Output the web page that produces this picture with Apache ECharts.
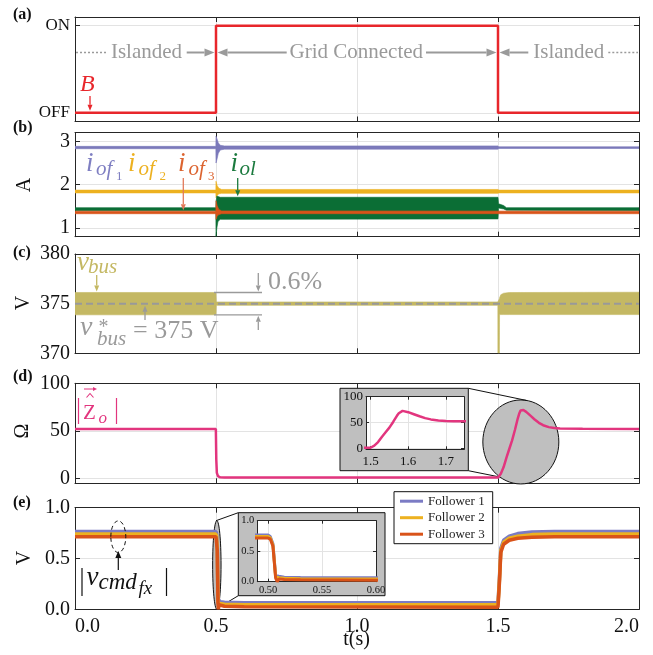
<!DOCTYPE html>
<html>
<head>
<meta charset="utf-8">
<title>Islanded / grid-connected transition</title>
<script src="https://cdn.jsdelivr.net/npm/echarts@6.0.0/dist/echarts.min.js"></script>
<style>
html, body { margin: 0; padding: 0; background: #fff; }
#chart { width: 653px; height: 655px; }
</style>
</head>
<body>
<div id="chart"></div>
<script>
// ---- shared time axis (s) ----
const timeTicks = [0, 0.5, 1.0, 1.5, 2.0];

// ---- (a) breaker state: 0 = OFF, 1 = ON ----
const breakerTime  = [0, 0.5, 0.5, 1.5, 1.5, 2.0];
const breakerState = [0, 0, 1, 1, 0, 0];
const breakerTickLabels = ['OFF', 'ON'];

// ---- (b) output currents, envelopes [t, min, max] in A ----
const iOf1 = [[0, 2.83, 2.885], [0.4995, 2.83, 2.885], [0.5, 2.5, 3.12], [0.504, 2.6, 3.05], [0.508, 2.72, 2.97],
              [0.515, 2.8, 2.91], [0.53, 2.82, 2.895], [1.5, 2.82, 2.895], [1.503, 2.835, 2.875], [2.0, 2.835, 2.875]];
const iOf2 = [[0, 1.81, 1.875], [0.4995, 1.81, 1.875], [0.5, 1.7, 2.08], [0.504, 1.75, 1.98], [0.51, 1.79, 1.92],
              [0.52, 1.8, 1.89], [1.5, 1.8, 1.89], [1.503, 1.81, 1.875], [2.0, 1.81, 1.875]];
const iOl  = [[0, 1.40, 1.47], [0.4995, 1.40, 1.47], [0.5, 0.8, 1.6], [0.503, 1.0, 1.74], [0.507, 1.15, 1.73],
              [0.515, 1.2, 1.71], [1.5, 1.21, 1.71], [1.502, 1.46, 1.56], [1.52, 1.44, 1.52], [1.53, 1.41, 1.47], [2.0, 1.40, 1.47]];
const iOf3 = [[0, 1.33, 1.39], [0.4995, 1.33, 1.39], [0.5, 1.2, 1.63], [0.504, 1.27, 1.52], [0.51, 1.31, 1.43],
              [0.52, 1.33, 1.395], [2.0, 1.33, 1.39]];
const currentTicks = [1, 2, 3];

// ---- (c) DC bus voltage envelope [t, min, max] in V; ripple band is 0.6 % of 375 V ----
const vBus = [[0, 373.875, 376.125], [0.5, 373.875, 376.125], [0.501, 374.83, 375.17], [1.4995, 374.83, 375.17],
              [1.4996, 370, 375.2], [1.505, 370, 375.5], [1.5055, 373.9, 375.6], [1.51, 373.9, 375.9],
              [1.52, 373.9, 376.05], [1.54, 373.9, 376.12], [2.0, 373.9, 376.15]];
const vBusRef = 375;
const vBusBand = [373.875, 376.125];
const vBusTicks = [370, 375, 380];

// ---- (d) estimated output impedance magnitude (Ohm) ----
const zTime = [0, 0.4995, 0.501, 0.503, 0.507, 0.515, 0.53, 1.5, 1.505, 1.51, 1.52, 1.53, 1.54, 1.55, 1.56, 1.57,
               1.575, 1.58, 1.585, 1.59, 1.6, 1.615, 1.63, 1.645, 1.66, 1.68, 1.7, 1.72, 1.8, 2.0];
const zMag  = [52, 52, 20, 6, 2.5, 1.3, 1, 1, 2, 5, 12, 22, 31, 40, 51, 63,
               68, 71.5, 72.5, 72, 70, 66, 62, 58.5, 56, 54, 53, 52.6, 52.2, 52];
const zTicks = [0, 50, 100];
const zInsetTicks = [1.5, 1.6, 1.7];

// ---- (e) command voltage magnitudes of the followers ----
const cmdTime = [0, 0.5, 0.502, 0.5045, 0.507, 0.5085, 0.51, 0.515, 0.53, 0.6, 1.5, 1.505, 1.51, 1.52, 1.54, 1.57, 1.62, 1.7, 2.0];
const cmdF1 = [0.765, 0.765, 0.74, 0.62, 0.10, 0.085, 0.09, 0.075, 0.07, 0.065, 0.065, 0.30, 0.60, 0.68, 0.72, 0.745, 0.76, 0.765, 0.765];
const cmdF2 = [0.74, 0.74, 0.72, 0.60, 0.08, 0.06, 0.065, 0.055, 0.05, 0.045, 0.045, 0.28, 0.58, 0.66, 0.70, 0.72, 0.735, 0.74, 0.74];
const cmdF3 = [0.715, 0.715, 0.70, 0.58, 0.06, 0.0, 0.045, 0.035, 0.03, 0.025, 0.02, 0.26, 0.56, 0.64, 0.68, 0.70, 0.71, 0.715, 0.715];
const cmdTicks = [0, 0.5, 1.0];
const cmdInsetTicks = [0.50, 0.55, 0.60];
const followerNames = ['Follower 1', 'Follower 2', 'Follower 3'];

// ---- styling ----
const FONT = '"Liberation Serif", "Times New Roman", serif';
const AXIS_COLOR = '#262626';
const GRID_COLOR = '#e3e3e3';
const ANN = '#9a9a9a';
const C = {
  red: '#e8262b', purple: '#7b79ba', yellow: '#edb120', green: '#0b6e35', orange: '#d95319',
  olive: '#c4b863', pink: '#e2357e', f1: '#7b7bc4', f2: '#edb120', f3: '#d95319'
};

const grids = [
  {left: 75, top: 17, width: 564, height: 104.5},
  {left: 75, top: 132.7, width: 564, height: 104},
  {left: 75, top: 254, width: 564, height: 99.3},
  {left: 75, top: 383.3, width: 564, height: 100},
  {left: 75, top: 507.7, width: 564, height: 101.6},
  {left: 366, top: 396.7, width: 98, height: 52.6},
  {left: 257.3, top: 520.7, width: 118.7, height: 61}
];

function axis(gridIndex, position, min, max, ticks, o) {
  o = o || {};
  return {
    type: 'value', gridIndex: gridIndex, position: position, min: min, max: max, z: o.z || 0,
    axisLine: {show: true, onZero: false, lineStyle: {color: AXIS_COLOR, width: 1}},
    axisTick: {show: true, inside: true, length: o.tickLen || 5, customValues: ticks, lineStyle: {color: AXIS_COLOR, width: 1}},
    axisLabel: o.label ? Object.assign({show: true, customValues: ticks, color: '#111', fontFamily: FONT, fontSize: 20, margin: 5}, o.label) : {show: false},
    splitLine: o.split ? {show: true, lineStyle: {color: GRID_COLOR, width: 1}} : {show: false}
  };
}

const fmt1 = v => v.toFixed(1);
const xAxes = [], yAxes = [];
for (let k = 0; k < 5; k++) {
  xAxes.push(axis(k, 'bottom', 0, 2, timeTicks, {split: true,
    label: k === 4 ? {formatter: fmt1, margin: 7, alignMinLabel: 'left', alignMaxLabel: 'right'} : null}));
  xAxes.push(axis(k, 'top', 0, 2, timeTicks));
}
xAxes.push(axis(5, 'bottom', 1.488, 1.748, zInsetTicks, {split: true, z: 5, tickLen: 3, label: {fontSize: 13, margin: 6, formatter: fmt1}}));
xAxes.push(axis(5, 'top', 1.488, 1.748, zInsetTicks, {z: 5, tickLen: 3}));
xAxes.push(axis(6, 'bottom', 0.49, 0.6, cmdInsetTicks, {split: true, z: 5, tickLen: 3, label: {fontSize: 10.5, margin: 3, formatter: v => v.toFixed(2)}}));
xAxes.push(axis(6, 'top', 0.49, 0.6, cmdInsetTicks, {z: 5, tickLen: 3}));

const yDefs = [
  [-0.1, 1.1, [0, 1], {fontSize: 17, formatter: v => breakerTickLabels[Math.round(v)]}],
  [0.8, 3.2, currentTicks, {formatter: v => String(v)}],
  [370, 380, vBusTicks, {formatter: v => String(v)}],
  [-5, 100, zTicks, {formatter: v => String(v)}],
  [0, 1, cmdTicks, {formatter: fmt1}]
];
yDefs.forEach((d, k) => {
  yAxes.push(axis(k, 'left', d[0], d[1], d[2], {split: true, label: d[3]}));
  yAxes.push(axis(k, 'right', d[0], d[1], d[2]));
});
yAxes.push(axis(5, 'left', -2, 100, zTicks, {split: true, z: 5, tickLen: 3, label: {fontSize: 13, margin: 3, formatter: v => String(v)}}));
yAxes.push(axis(5, 'right', -2, 100, zTicks, {z: 5, tickLen: 3}));
yAxes.push(axis(6, 'left', 0, 1, cmdTicks, {split: true, z: 5, tickLen: 3, label: {fontSize: 10.5, margin: 3, formatter: fmt1}}));
yAxes.push(axis(6, 'right', 0, 1, cmdTicks, {z: 5, tickLen: 3}));

// filled envelope between the min and max columns of [t, min, max]
function band(name, pts, color, ax) {
  return {
    type: 'custom', name: name, xAxisIndex: ax, yAxisIndex: ax, z: 3, clip: true,
    data: pts, encode: {x: 0, y: [1, 2]},
    renderItem: function (params, api) {
      if (params.dataIndex !== 0) return null;
      const upper = pts.map(p => api.coord([p[0], p[2]]));
      const lower = pts.map(p => api.coord([p[0], p[1]])).reverse();
      return {type: 'polygon', shape: {points: upper.concat(lower)},
              style: {fill: color, stroke: color, lineWidth: 0.6}};
    }
  };
}
function line(name, xs, ys, color, width, ax, z) {
  return {type: 'line', name: name, xAxisIndex: ax, yAxisIndex: ax, z: z || 3,
          data: xs.map((t, i) => [t, ys[i]]), symbol: 'none', showSymbol: false,
          lineStyle: {color: color, width: width}, itemStyle: {color: color}};
}

const cmdSeries = [cmdF1, cmdF2, cmdF3];
const cmdColors = [C.f1, C.f2, C.f3];
const series = [
  line('B', breakerTime, breakerState, C.red, 2.5, 0),
  band('iof1', iOf1, C.purple, 2),
  band('iof2', iOf2, C.yellow, 2),
  band('iol', iOl, C.green, 2),
  band('iof3', iOf3, C.orange, 2),
  band('vbus', vBus, C.olive, 4),
  Object.assign(line('vbus*', [0, 2], [vBusRef, vBusRef], '#999', 2, 4, 4), {lineStyle: {color: '#999', width: 2, type: [7, 4]}}),
  line('Zo', zTime, zMag, C.pink, 2.5, 6),
  line('Zo inset', zTime, zMag, C.pink, 2.5, 10, 6)
];
cmdSeries.forEach((s, i) => series.push(line(followerNames[i], cmdTime, s, cmdColors[i], 3.5, 8)));
cmdSeries.forEach((s, i) => series.push(line(followerNames[i], cmdTime, s, cmdColors[i], 3, 12, 6)));

const chart = echarts.init(document.getElementById('chart'));
chart.setOption({
  animation: false,
  backgroundColor: '#fff',
  textStyle: {fontFamily: FONT},
  grid: grids,
  xAxis: xAxes,
  yAxis: yAxes,
  legend: {
    data: followerNames, orient: 'vertical', left: 394, top: 491.7, z: 10, selectedMode: false,
    backgroundColor: '#fff', borderColor: '#111', borderWidth: 1, borderRadius: 0,
    padding: [3, 8, 3, 6], itemGap: 3.5, itemWidth: 23, itemHeight: 3, icon: 'rect',
    textStyle: {fontFamily: FONT, fontSize: 13, color: '#222'}
  },
  series: series
});

// ---------- annotations ----------
const px = (ax, t, v) => chart.convertToPixel({xAxisIndex: ax, yAxisIndex: ax}, [t, v]);
const G = [];
function txt(x, base, s, size, color, o) {
  o = o || {};
  G.push({type: 'text', z: 6, x: x, y: base - 0.3375 * size,
    style: {text: s, fill: color, fontSize: size, fontFamily: FONT, fontStyle: o.italic ? 'italic' : 'normal',
            fontWeight: o.bold ? 'bold' : 'normal', align: o.align || 'left', verticalAlign: 'middle'}});
}
function ctxt(x, y, s, size, color, o) {
  o = o || {};
  G.push({type: 'text', z: 6, x: x, y: y, rotation: o.rot || 0,
    style: {text: s, fill: color, fontSize: size, fontFamily: FONT, fontWeight: o.bold ? 'bold' : 'normal',
            align: o.align || 'center', verticalAlign: 'middle'}});
}
function seg(x1, y1, x2, y2, color, w, dash, z) {
  G.push({type: 'line', z: z || 5, shape: {x1: x1, y1: y1, x2: x2, y2: y2},
          style: {stroke: color, lineWidth: w, lineDash: dash || null}});
}
function arrow(x1, y1, x2, y2, color, w, hl, hw) {
  const dx = x2 - x1, dy = y2 - y1, L = Math.hypot(dx, dy), ux = dx / L, uy = dy / L;
  const bx = x2 - ux * hl, by = y2 - uy * hl;
  seg(x1, y1, bx, by, color, w);
  G.push({type: 'polygon', z: 5, shape: {points: [[x2, y2], [bx - uy * hw / 2, by + ux * hw / 2], [bx + uy * hw / 2, by - ux * hw / 2]]},
          style: {fill: color}});
}

// panel tags and axis names
[['(a)', 15], ['(b)', 128], ['(c)', 252.5], ['(d)', 376.5], ['(e)', 503]].forEach(p => {
  G.push({type: 'text', z: 6, x: 13, y: p[1], style: {text: p[0], fill: '#111', fontSize: 16, fontWeight: 'bold', fontFamily: FONT, verticalAlign: 'middle'}});
});
[['A', 25, 185], ['V', 24, 303], ['Ω', 23, 431], ['V', 25, 558]].forEach(p => ctxt(p[1], p[2], p[0], 20, '#111', {rot: Math.PI / 2}));
ctxt(356.5, 640, 't(s)', 20, '#111');

// (a) operating modes
const xOn = px(0, 0.5, 0)[0], xOff = px(0, 1.5, 0)[0], yMode = 52.5;
seg(76, yMode, 106.7, yMode, ANN, 1.5, [2, 2]);
txt(146.5, 59.5, 'Islanded', 21, ANN, {align: 'center'});
arrow(186.7, yMode, xOn - 1.5, yMode, ANN, 2, 10, 8);
arrow(286.7, yMode, xOn + 1.5, yMode, ANN, 2, 10, 8);
txt(356.3, 59.5, 'Grid Connected', 21, ANN, {align: 'center'});
arrow(426, yMode, xOff - 1.5, yMode, ANN, 2, 10, 8);
arrow(528.3, yMode, xOff + 1.5, yMode, ANN, 2, 10, 8);
txt(568.8, 59.5, 'Islanded', 21, ANN, {align: 'center'});
seg(608.3, yMode, 638, yMode, ANN, 1.5, [2, 2]);
txt(80, 93, 'B', 24, C.red, {italic: true});
arrow(90, 96, 90, px(0, 0.04, 0)[1] - 2, C.red, 1.3, 6, 5);

// (b) current labels
[[86, 96, 116, '1', '#7f7fc2'], [128, 138.5, 159.5, '2', C.yellow], [178, 188.5, 208, '3', '#dc6430']].forEach(l => {
  txt(l[0], 173, 'i', 27, l[4], {italic: true});
  txt(l[1], 176.5, 'of', 21, l[4], {italic: true});
  txt(l[2], 180.5, l[3], 13, l[4]);
});
txt(230.5, 173, 'i', 27, '#1b7a3e', {italic: true});
txt(239.5, 176.5, 'ol', 21, '#1b7a3e', {italic: true});
arrow(183.3, 178, 183.3, px(2, 0.38, 1.39)[1] - 1, '#e27a5a', 1.3, 6, 5);
arrow(237.7, 178, 237.7, px(2, 0.58, 1.71)[1] - 1, '#1b7a3e', 1.3, 6, 5);

// (c) bus voltage labels and ripple band marker
const yHi = px(4, 0.5, vBusBand[1])[1], yLo = px(4, 0.5, vBusBand[0])[1], yRef = px(4, 0.5, vBusRef)[1];
txt(77, 272, 'v', 27, C.olive, {italic: true});
txt(88, 274.5, 'bus', 21, C.olive, {italic: true});
arrow(96.7, 275, 96.7, yHi - 1, C.olive, 1.3, 6, 5);
seg(xOn - 2, yHi, 262, yHi, ANN, 1.3);
seg(xOn - 2, yLo, 262, yLo, ANN, 1.3);
arrow(258.3, 273, 258.3, yHi - 1, ANN, 1.3, 6, 5);
arrow(258.3, 330, 258.3, yLo + 1, ANN, 1.3, 6, 5);
txt(268, 290.5, '0.6%', 26, ANN);
txt(80, 337, 'v', 28, ANN, {italic: true});
txt(98.5, 334, '*', 20, ANN);
txt(97, 346.5, 'bus', 21, ANN, {italic: true});
txt(133, 340, '= 375 V', 26, ANN);
arrow(145, 320, 145, yRef + 2, ANN, 1.3, 6, 5);

// (d) |Z_o| label
seg(78.5, 398, 78.5, 424, C.pink, 1.2);
seg(116.5, 398, 116.5, 424, C.pink, 1.2);
txt(83, 420.5, 'Z', 21, C.pink);
txt(98.5, 424, 'o', 17, C.pink, {italic: true});
G.push({type: 'polyline', z: 6, shape: {points: [[86.5, 397.5], [90, 393.5], [93.5, 397.5]]}, style: {stroke: C.pink, lineWidth: 1.1, fill: null}});
arrow(84, 389, 97, 389, C.pink, 1, 4, 4);

// (d) zoom call-out
G.push({type: 'rect', z: 1, shape: {x: 340, y: 388.3, width: 128.3, height: 82.4}, style: {fill: '#bfbfbf', stroke: '#111', lineWidth: 1}});
G.push({type: 'rect', z: 2, shape: {x: grids[5].left, y: grids[5].top, width: grids[5].width, height: grids[5].height}, style: {fill: '#fff'}});
const eD = px(6, 1.581, 38.4), rxD = 38, ryD = 42;
G.push({type: 'ellipse', z: 1, shape: {cx: eD[0], cy: eD[1], rx: rxD, ry: ryD}, style: {fill: '#bfbfbf', stroke: '#111', lineWidth: 1}});
seg(468.3, 388.3, eD[0] + 0.153 * rxD, eD[1] - 0.988 * ryD, '#111', 1, null, 1);
seg(468.3, 470.7, eD[0] - 0.55 * rxD, eD[1] + 0.835 * ryD, '#111', 1, null, 1);

// (e) |v_cmd_fx| label
seg(82, 568, 82, 596, '#111', 1.2);
seg(166.5, 568, 166.5, 596, '#111', 1.2);
txt(86.5, 587, 'v', 27, '#111', {italic: true});
txt(98.5, 590.5, 'cmd', 23, '#111', {italic: true});
txt(138.5, 595.5, 'fx', 19, '#111', {italic: true});
G.push({type: 'ellipse', z: 5, shape: {cx: 118.3, cy: 536.7, rx: 7.5, ry: 15.8}, style: {fill: null, stroke: '#111', lineWidth: 1, lineDash: [4, 3]}});
arrow(118.3, 570, 118.3, 551, '#111', 1.2, 7, 6);

// (e) zoom call-out
G.push({type: 'rect', z: 1, shape: {x: 238.3, y: 512.7, width: 146.7, height: 83}, style: {fill: '#bfbfbf', stroke: '#111', lineWidth: 1}});
G.push({type: 'rect', z: 2, shape: {x: grids[6].left, y: grids[6].top, width: grids[6].width, height: grids[6].height}, style: {fill: '#fff'}});
const eE = px(8, 0.503, 0.436), rxE = 4.2, ryE = 44.3;
G.push({type: 'ellipse', z: 1, shape: {cx: eE[0], cy: eE[1], rx: rxE, ry: ryE}, style: {fill: '#bfbfbf', stroke: '#111', lineWidth: 1}});
seg(eE[0] - 0.2 * rxE, eE[1] - ryE, 238.3, 512.7, '#111', 1, null, 1);
seg(eE[0] + 0.6 * rxE, eE[1] + 0.95 * ryE, 238.3, 595.7, '#111', 1, null, 1);

chart.setOption({graphic: {elements: G}});
</script>
</body>
</html>
